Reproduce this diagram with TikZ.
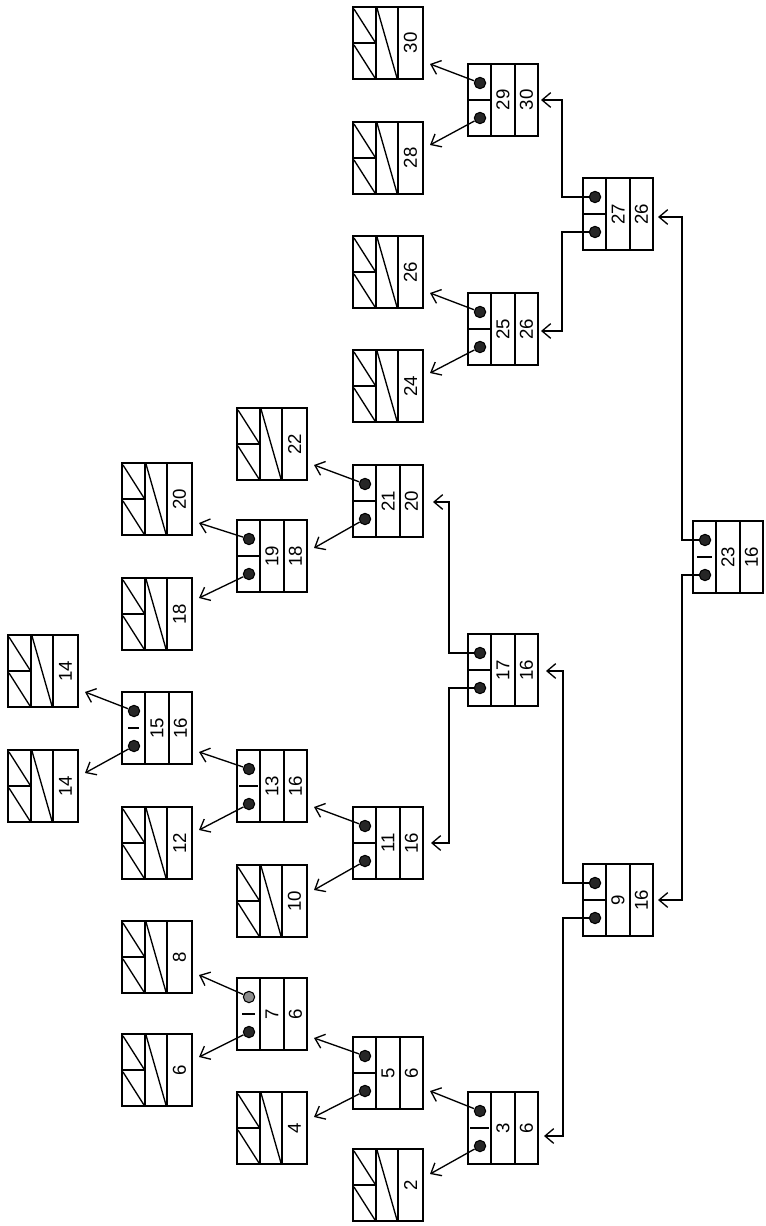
\documentclass[tikz,border=0pt]{standalone}
\usepackage{fontspec}
\setmainfont{Liberation Sans}
\usetikzlibrary{calc,arrows.meta}
\tikzset{
  box/.style={draw, line width=1.1pt, anchor=north west, minimum width=52.5pt, minimum height=54pt, inner sep=0pt, outer sep=0pt},
  ln/.style={line width=1pt},
  num/.style={rotate=90, font=\fontsize{14}{14}\selectfont, inner sep=0pt},
  dot/.style={circle, draw, line width=0.8pt, fill=black!85, minimum size=8.5pt, inner sep=0pt},
  arr/.style={line width=1pt, -{Straight Barb[length=6.5pt,width=11pt]}},
}
\newcommand{\InNode}[7]{%
  \node[box] (#1) at (#2,#3) {};
  \draw[ln] ($(#1.north west)+(23,0)$) -- ++(0,72);
  \draw[ln] ($(#1.north west)+(47,0)$) -- ++(0,72);
  \draw[ln] ($(#1.north west)+(#6,36)$) -- ($(#1.north west)+(23-#6,36)$);
  \node[num] (#1-k) at ($(#1.north west)+(35,36)$) {#4};
  \node[num] (#1-v) at ($(#1.north west)+(58.5,36)$) {#5};
  \node[dot,fill=#7] (#1-t) at ($(#1.north west)+(12,19)$) {};
  \node[dot] (#1-u) at ($(#1.north west)+(12,54)$) {};
}
\newcommand{\LeafNode}[4]{%
  \node[box] (#1) at (#2,#3) {};
  \draw[ln] ($(#1.north west)+(23,0)$) -- ++(0,72);
  \draw[ln] ($(#1.north west)+(45,0)$) -- ++(0,72);
  \draw[ln] ($(#1.north west)+(0,36)$) -- ++(23,0);
  \draw[ln] ($(#1.north west)+(1,2)$) -- ($(#1.north west)+(22,35)$);
  \draw[ln] ($(#1.north west)+(1,38)$) -- ($(#1.north west)+(22,71)$);
  \draw[ln] ($(#1.north west)+(24,1)$) -- ($(#1.north west)+(44,71)$);
  \node[num] (#1-k) at ($(#1.north west)+(57.5,36)$) {#4};
}
\begin{document}
\begin{tikzpicture}[x=0.75pt,y=-0.75pt]
\useasboundingbox (0,0) rectangle (766,1226);
% internal nodes
\InNode{n23}{693}{521}{23}{16}{4}{black!85}
\InNode{n9}{583}{864}{9}{16}{0}{black!85}
\InNode{n27}{583}{178}{27}{26}{0}{black!85}
\InNode{n3}{468}{1092}{3}{6}{2}{black!85}
\InNode{n17}{468}{634}{17}{16}{0}{black!85}
\InNode{n25}{468}{293}{25}{26}{0}{black!85}
\InNode{n29}{468}{64}{29}{30}{0}{black!85}
\InNode{n5}{353}{1037}{5}{6}{0}{black!85}
\InNode{n11}{353}{807}{11}{16}{0}{black!85}
\InNode{n21}{353}{465}{21}{20}{0}{black!85}
\InNode{n7}{237}{978}{7}{6}{5}{black!45}
\InNode{n13}{237}{750}{13}{16}{2}{black!85}
\InNode{n19}{237}{520}{19}{18}{0}{black!85}
\InNode{n15}{122}{692}{15}{16}{6}{black!85}
% leaves
\LeafNode{l2}{353}{1149}{2}
\LeafNode{l4}{237}{1092}{4}
\LeafNode{l6}{122}{1034}{6}
\LeafNode{l8}{122}{921}{8}
\LeafNode{l10}{237}{865}{10}
\LeafNode{l12}{122}{807}{12}
\LeafNode{l14b}{8}{750}{14}
\LeafNode{l14a}{8}{635}{14}
\LeafNode{l18}{122}{578}{18}
\LeafNode{l20}{122}{463}{20}
\LeafNode{l22}{237}{408}{22}
\LeafNode{l24}{353}{350}{24}
\LeafNode{l26}{353}{236}{26}
\LeafNode{l28}{353}{122}{28}
\LeafNode{l30}{353}{7}{30}
% diagonal pointers
\draw[arr] (n29-t) -- ($(l30.south east)+(7,-15)$);
\draw[arr] (n29-u) -- ($(l28.north east)+(7,23)$);
\draw[arr] (n25-t) -- ($(l26.south east)+(7,-15)$);
\draw[arr] (n25-u) -- ($(l24.north east)+(7,23)$);
\draw[arr] (n21-t) -- ($(l22.south east)+(7,-15)$);
\draw[arr] (n21-u) -- ($(n19.north east)+(7,28)$);
\draw[arr] (n19-t) -- ($(l20.south east)+(7,-12)$);
\draw[arr] (n19-u) -- ($(l18.north east)+(7,20)$);
\draw[arr] (n15-t) -- ($(l14a.south east)+(7,-15)$);
\draw[arr] (n15-u) -- ($(l14b.north east)+(7,23)$);
\draw[arr] (n13-t) -- ($(n15.south east)+(7,-12)$);
\draw[arr] (n13-u) -- ($(l12.north east)+(7,23)$);
\draw[arr] (n11-t) -- ($(n13.south east)+(7,-15)$);
\draw[arr] (n11-u) -- ($(l10.north east)+(7,25)$);
\draw[arr] (n7-t) -- ($(l8.south east)+(7,-18)$);
\draw[arr] (n7-u) -- ($(l6.north east)+(7,23)$);
\draw[arr] (n5-t) -- ($(n7.south east)+(7,-12)$);
\draw[arr] (n5-u) -- ($(l4.north east)+(7,25)$);
\draw[arr] (n3-t) -- ($(n5.south east)+(7,-18)$);
\draw[arr] (n3-u) -- ($(l2.north east)+(7,25)$);
% elbow pointers
\coordinate (e23t) at ($(n23-t)+(-23,0)$);
\coordinate (e23u) at ($(n23-u)+(-23,0)$);
\coordinate (e27t) at ($(n27-t)+(-33,0)$);
\coordinate (e27u) at ($(n27-u)+(-33,0)$);
\coordinate (e9t) at ($(n9-t)+(-32,0)$);
\coordinate (e9u) at ($(n9-u)+(-32,0)$);
\coordinate (e17t) at ($(n17-t)+(-31,0)$);
\coordinate (e17u) at ($(n17-u)+(-31,0)$);
\draw[arr] (n23-t) -- (e23t) |- ($(n27.east)+(5,3)$);
\draw[arr] (n23-u) -- (e23u) |- ($(n9.east)+(5,0)$);
\draw[arr] (n27-t) -- (e27t) |- ($(n29.east)+(3,0)$);
\draw[arr] (n27-u) -- (e27u) |- ($(n25.east)+(3,2)$);
\draw[arr] (n9-t) -- (e9t) |- ($(n17.east)+(8,1)$);
\draw[arr] (n9-u) -- (e9u) |- ($(n3.east)+(6,8)$);
\draw[arr] (n17-t) -- (e17t) |- ($(n21.east)+(10,1)$);
\draw[arr] (n17-u) -- (e17u) |- ($(n11.east)+(8,0)$);
\end{tikzpicture}
\end{document}
